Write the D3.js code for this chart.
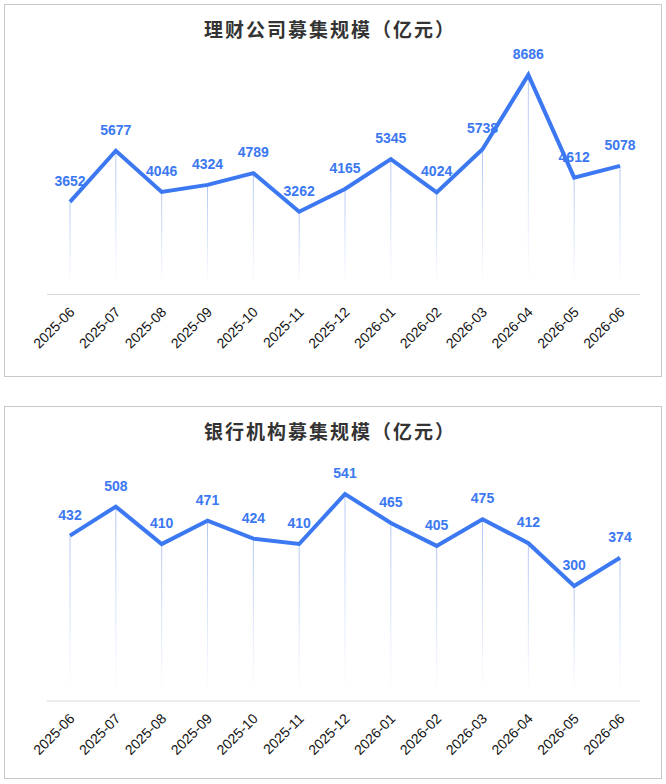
<!DOCTYPE html>
<html><head><meta charset="utf-8">
<script src="https://cdn.jsdelivr.net/npm/d3@7"></script>
<style>body{margin:0;background:#fff}</style></head>
<body><svg id="c" width="666" height="784"></svg>
<script>
const months = ["2025-06","2025-07","2025-08","2025-09","2025-10","2025-11","2025-12","2026-01","2026-02","2026-03","2026-04","2026-05","2026-06"];
const wealthValues = [3652,5677,4046,4324,4789,3262,4165,5345,4024,5738,8686,4612,5078];
const bankValues = [432,508,410,471,424,410,541,465,405,475,412,300,374];
const titles = ["理财公司募集规模（亿元）","银行机构募集规模（亿元）"];

const svg = d3.select("#c");
const defs = svg.append("defs");
const g = defs.append("linearGradient").attr("id","fade").attr("x1",0).attr("y1",0).attr("x2",0).attr("y2",1);
g.append("stop").attr("offset","0%").attr("stop-color","#a9c0f5").attr("stop-opacity",0.9);
g.append("stop").attr("offset","100%").attr("stop-color","#a9c0f5").attr("stop-opacity",0);

function panel(top, title, vals, y0, pxPer) {
  const p = svg.append("g").attr("transform",`translate(0,${top})`);
  p.append("rect").attr("x",4.5).attr("y",0.5).attr("width",657).attr("height",372).attr("fill","#fff").attr("stroke","#c8c8c8");
  p.append("text").attr("x",330).attr("y",33).attr("text-anchor","middle")
   .attr("font-family","Noto Sans CJK SC").attr("font-weight","bold").attr("font-size",19).attr("fill","#333")
   .attr("letter-spacing",2).text(title);
  const x = d3.scalePoint().domain(months).range([70,620]);
  const y = d3.scaleLinear().domain([0,1]).range([y0, y0-pxPer]);
  const ax = p.append("g").attr("transform",`translate(0,${y0})`)
    .call(d3.axisBottom(x).tickSize(0).tickPadding(0));
  ax.select(".domain").remove();
  p.append("line").attr("x1",47).attr("x2",640).attr("y1",y0+0.5).attr("y2",y0+0.5).attr("stroke","#d9d9d9");
  ax.selectAll("text").attr("font-family","Liberation Sans, Arial").attr("font-size",14).attr("fill","#111")
    .attr("text-anchor","end").attr("dy",0).attr("transform","translate(5,19) rotate(-45)");
  p.selectAll(".drop").data(vals).join("rect").attr("x",(d,i)=>x(months[i])-0.5).attr("width",1)
    .attr("y",d=>y(d)).attr("height",d=>y0-8-y(d)).attr("fill","url(#fade)");
  p.append("path").datum(vals).attr("fill","none").attr("stroke","#3b78f2").attr("stroke-width",4)
    .attr("d",d3.line().x((d,i)=>x(months[i])).y(d=>y(d)));
  p.selectAll(".lbl").data(vals).join("text").attr("x",(d,i)=>x(months[i])).attr("y",d=>y(d)-16)
    .attr("text-anchor","middle").attr("font-family","Liberation Sans, Arial").attr("font-weight","bold")
    .attr("font-size",14).attr("fill","#3b78f2").text(d=>d);
}
panel(4, titles[0], wealthValues, 290, 0.02523);
panel(406, titles[1], bankValues, 294.5, 0.3817);
</script></body></html>
